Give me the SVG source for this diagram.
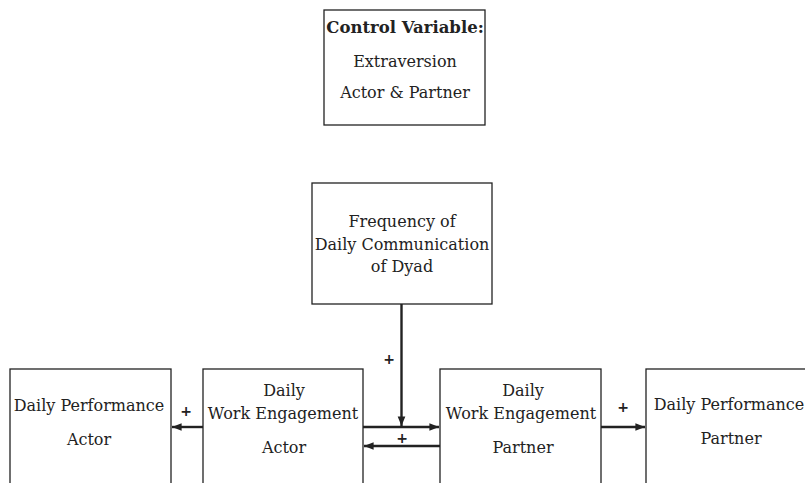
<svg xmlns="http://www.w3.org/2000/svg" width="805" height="483" viewBox="0 0 805 483">
<defs>
<style>
.box{fill:#fff;stroke:#222;stroke-width:1.3}
.t{font-family:"DejaVu Serif","Liberation Serif",serif;font-size:16px;fill:#222;text-anchor:middle}
.b{font-weight:bold;font-size:16.5px}
.p{font-family:"DejaVu Sans","Liberation Sans",sans-serif;font-size:14px;font-weight:bold;fill:#222;text-anchor:middle}
.c{stroke:#222;stroke-width:2.4;fill:none}
</style>
<marker id="ah" viewBox="0 0 10 10" refX="10" refY="5" markerWidth="4" markerHeight="4" orient="auto" markerUnits="strokeWidth">
<path d="M0,1 L10,5 L0,9 z" fill="#222"/>
</marker>
</defs>
<rect width="805" height="483" fill="#fff"/>
<g id="control">
<rect class="box" x="324" y="10" width="161" height="115"/>
<text class="t b" x="405" y="33">Control Variable:</text>
<text class="t" x="405" y="67">Extraversion</text>
<text class="t" x="405" y="98">Actor &amp; Partner</text>
</g>
<g id="frequency">
<rect class="box" x="312" y="183" width="180" height="121"/>
<text class="t" x="402" y="227">Frequency of</text>
<text class="t" x="402" y="250">Daily Communication</text>
<text class="t" x="402" y="272">of Dyad</text>
</g>
<g id="dp-actor">
<rect class="box" x="10" y="369" width="161" height="120"/>
<text class="t" x="89" y="411">Daily Performance</text>
<text class="t" x="89" y="445">Actor</text>
</g>
<g id="we-actor">
<rect class="box" x="203" y="369" width="160" height="120"/>
<text class="t" x="284" y="396">Daily</text>
<text class="t" x="283" y="419">Work Engagement</text>
<text class="t" x="284" y="453">Actor</text>
</g>
<g id="we-partner">
<rect class="box" x="440" y="369" width="161" height="120"/>
<text class="t" x="523" y="396">Daily</text>
<text class="t" x="521" y="419">Work Engagement</text>
<text class="t" x="523" y="453">Partner</text>
</g>
<g id="dp-partner">
<rect class="box" x="646" y="369" width="165" height="120"/>
<text class="t" x="729" y="410">Daily Performance</text>
<text class="t" x="731" y="444">Partner</text>
</g>
<g id="connectors">
<path class="c" d="M203,427 L172,427" marker-end="url(#ah)"/>
<path class="c" d="M363,427 L439,427" marker-end="url(#ah)"/>
<path class="c" d="M440,446 L364,446" marker-end="url(#ah)"/>
<path class="c" d="M401.5,304 L401.5,426" marker-end="url(#ah)"/>
<path class="c" d="M601,427 L645,427" marker-end="url(#ah)"/>
<text class="p" x="389" y="364">+</text>
<text class="p" x="186" y="416">+</text>
<text class="p" x="402" y="443">+</text>
<text class="p" x="623" y="412">+</text>
</g>
</svg>
